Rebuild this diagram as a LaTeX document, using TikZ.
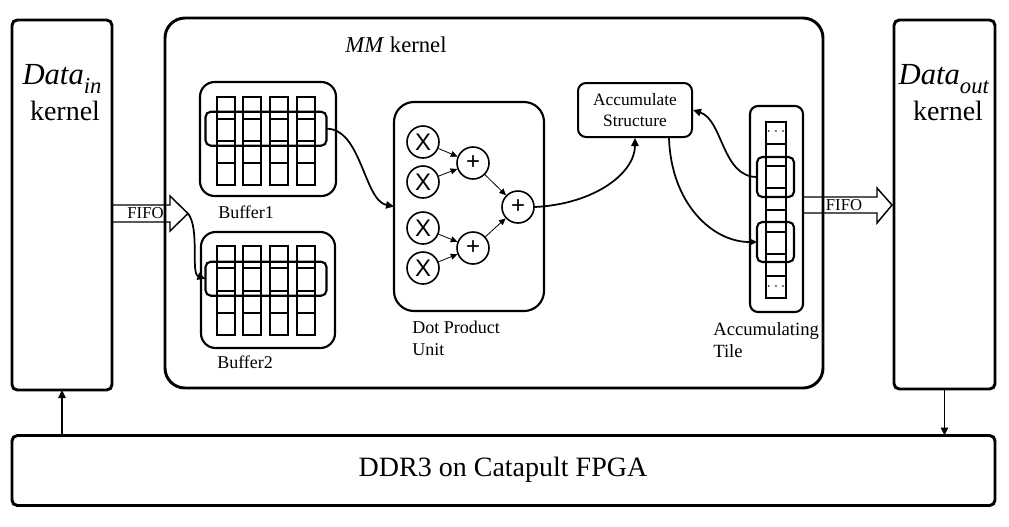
\documentclass[tikz,border=0pt]{standalone}
\usepackage{fontspec}
\setmainfont{Liberation Serif}
\newfontfamily\arialf{Liberation Sans}
\usetikzlibrary{arrows.meta}
\newcommand\dsub[2]{\textit{#1}\raisebox{-0.3em}{\fontsize{17}{18}\selectfont\textit{#2}}}
\begin{document}
\begin{tikzpicture}[x=0.75pt,y=-0.75pt,
  sz/.style 2 args={minimum width=#1*0.75pt,minimum height=#2*0.75pt},
  kbox/.style={draw,line width=2.2pt,inner sep=0pt,outer sep=0pt,rounded corners=4pt},
  bbox/.style={draw,line width=1.6pt,inner sep=0pt,outer sep=0pt,rounded corners=11pt},
  ovl/.style={draw,line width=1.6pt,inner sep=0pt,outer sep=0pt,rounded corners=4pt},
  cell/.style={draw,line width=1.6pt},
  opc/.style={draw,circle,line width=1.2pt,minimum size=24pt,inner sep=0pt,font=\arialf\fontsize{18}{18}\selectfont},
  carr/.style={line width=1.3pt,-{Triangle[length=6pt,width=5.5pt]}},
  tarr/.style={line width=0.6pt,-{Triangle[length=5pt,width=4.5pt]}},
  varr/.style={line width=1.2pt,-{Triangle[length=6pt,width=5.5pt]}},
  fifo/.style={draw,line width=1.1pt,line join=miter},
  kfont/.style={font=\fontsize{21}{25}\selectfont},
  lbl/.style={font=\fontsize{13.5}{16.5}\selectfont,align=left,inner sep=0pt}
]
\useasboundingbox (0,0) rectangle (1009,526);

% kernels
\node[kbox,sz={100}{370}] (datain) at (62,205) {};
\node[kbox,sz={658}{370},rounded corners=15pt] (mm) at (494,203) {};
\node[kbox,sz={101}{369}] (dataout) at (944.5,204.5) {};
\node[kbox,sz={983}{70}] (ddr) at (503.5,470.5) {};

\node[font=\fontsize{23}{25}\selectfont] (dinlab) at (62,79) {\dsub{Data}{in}};
\node[kfont] (dinker) at (65,111) {kernel};
\node[font=\fontsize{23}{25}\selectfont] (doutlab) at (944,79) {\dsub{Data}{out}};
\node[kfont] (doutker) at (948,111) {kernel};
\node[font=\fontsize{17}{20}\selectfont] (mmlab) at (396,45) {\textit{MM} kernel};
\node[font=\fontsize{21}{25}\selectfont] (ddrlab) at (503,470) {DDR3 on Catapult FPGA};

\draw[varr] (ddr.north -| datain.south) -- (datain.south);
\draw[varr] (dataout.south) -- (dataout.south |- ddr.north);

% FIFO arrows
\draw[fifo] (113,205) -- (170,205) -- (170,196) -- (188,213.5) -- (170,231) -- (170,222) -- (113,222);
\coordinate (fifo1tip) at (188,213.5);
\node[font=\fontsize{12.5}{13}\selectfont,inner sep=0pt] (fifo1) at (145.5,213) {FIFO};
\draw[fifo] (804,197) -- (877,197) -- (877,188) -- (892,205) -- (877,223) -- (877,213) -- (804,213);
\node[font=\fontsize{12.5}{13}\selectfont,inner sep=0pt] (fifo2) at (844,205) {FIFO};

% buffers
\node[bbox,sz={136}{114}] (buf1) at (268,139) {};
\node[ovl,sz={121}{34}] (buf1ov) at (266,128.7) {};
\foreach \cx in {217,243,270,297}
  \foreach \k in {0,...,3}
    \draw[cell] (\cx,{97+22*\k}) rectangle ++(18,22);
\node[lbl,anchor=west] (buf1lab) at (218,212) {Buffer1};

\node[bbox,sz={134}{116}] (buf2) at (268,290) {};
\node[ovl,sz={121}{34}] (buf2ov) at (266,278.7) {};
\foreach \cx in {217,243,270,297}
  \foreach \k in {0,...,3}
    \draw[cell] (\cx,{246+22.3*\k}) rectangle ++(18,22.3);
\node[lbl,anchor=west] (buf2lab) at (217,362) {Buffer2};

% dot product unit
\node[bbox,sz={150}{209},rounded corners=15pt] (dpu) at (469,206.5) {};
\node[opc] (m1) at (423,142) {X};
\node[opc] (m2) at (423,182) {X};
\node[opc] (m3) at (423,228) {X};
\node[opc] (m4) at (423,268) {X};
\node[opc] (s1) at (473,163) {+};
\node[opc] (s2) at (473,248) {+};
\node[opc] (s3) at (518,207) {+};
\draw[tarr] (m1) -- (s1);
\draw[tarr] (m2) -- (s1);
\draw[tarr] (m3) -- (s2);
\draw[tarr] (m4) -- (s2);
\draw[tarr] (s1) -- (s3);
\draw[tarr] (s2) -- (s3);
\node[lbl,anchor=north west] (dpulab) at (412,321) {Dot Product\\Unit};

% accumulate structure
\node[draw,line width=1.5pt,rounded corners=6pt,sz={114}{54},inner sep=0pt,align=center,
      font=\fontsize{13}{16}\selectfont] (acc) at (635,110) {Accumulate\\Structure};

% accumulating tile
\node[bbox,sz={53}{206},rounded corners=6pt] (tile) at (776.5,209) {};
\foreach \k in {0,...,7}
  \draw[cell] (766,{122+22*\k}) rectangle ++(20,22);
\node[font=\fontsize{13}{13}\selectfont,inner sep=0pt] (dtop) at (776,132) {$\cdots$};
\node[font=\fontsize{13}{13}\selectfont,inner sep=0pt] (dbot) at (776,287) {$\cdots$};
\node[ovl,sz={37}{40}] (ov1) at (775.5,177) {};
\node[ovl,sz={37}{40}] (ov2) at (775.5,242) {};
\node[lbl,anchor=north west,font=\fontsize{14}{16.5}\selectfont] (tilelab) at (713,322) {Accumulating\\Tile};

% curved connectors
\draw[carr] (buf1ov.east) .. controls +(35,0) and +(-30,-6) .. (dpu.west);
\draw[carr] (fifo1tip) .. controls +(12,15) and +(-15,-5) .. (buf2ov.west);
\draw[carr] (s3.east) .. controls +(60,-3) and +(0,35) .. (acc.south);
\draw[carr] ([xshift=-18pt]acc.south east) .. controls +(2,65) and +(-45,0) .. (ov2.west);
\draw[carr] (ov1.west) .. controls +(-35,0) and +(30,10) .. (acc.east);
\end{tikzpicture}
\end{document}
